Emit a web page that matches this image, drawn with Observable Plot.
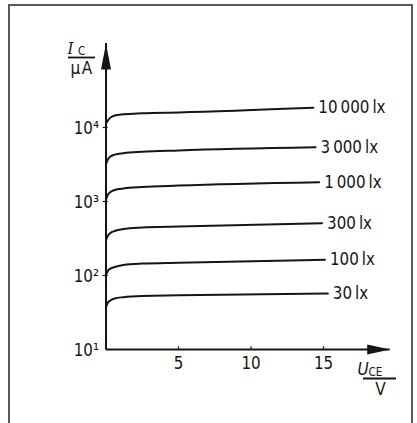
<!DOCTYPE html>
<html><head><meta charset="utf-8">
<script src="https://cdn.jsdelivr.net/npm/d3@7"></script>
<script src="https://cdn.jsdelivr.net/npm/@observablehq/plot@0.6"></script>
<style>
html,body{margin:0;padding:0;background:#fff;}
#wrap{position:relative;width:417px;height:423px;overflow:hidden;}
#frame{position:absolute;left:8px;top:4px;width:401px;height:440px;border:2px solid #5a5a5a;border-bottom:none;}
#chart{position:absolute;left:0;top:0;}
</style></head><body>
<div id="wrap"><div id="frame"></div><div id="chart"></div></div>
<script>
// Illuminance series labels
const curveLabels = ["10\u2009000\u2009lx", "3\u2009000\u2009lx", "1\u2009000\u2009lx", "300\u2009lx", "100\u2009lx", "30\u2009lx"];
// Collector-emitter voltage samples (V), shared, then the end voltage of each curve
const uceSamples = [0, 0.1, 0.3, 0.6, 1.2, 2.5, 5];
const uceEnd = [14.3, 14.45, 14.7, 14.9, 15.1, 15.3];
// Collector current (µA) at those samples, last value at uceEnd
const ic10000 = [11300, 12200, 13600, 14500, 15100, 15600, 16000, 18500];
const ic3000  = [3200, 3600, 4050, 4300, 4500, 4700, 4900, 5400];
const ic1000  = [1060, 1200, 1340, 1430, 1500, 1570, 1640, 1820];
const ic300   = [300, 335, 375, 400, 425, 445, 460, 510];
const ic100   = [100, 113, 124, 130, 139, 145, 149, 163];
const ic30    = [37, 42, 46, 49, 51, 53, 54, 57];
// Axes
const xTicks = [5, 10, 15];
const xTickLabels = ["5", "10", "15"];
const yTicks = [10, 100, 1000, 10000];
const yTickLabels = ["10\u00B9", "10\u00B2", "10\u00B3", "10\u2074"];
const xAxisEnd = 19.6;     // V, arrow tip
const yAxisEnd = 136000;   // µA, arrow tip

const series = [ic10000, ic3000, ic1000, ic300, ic100, ic30];
const rows = [];
series.forEach((vals, i) => {
  vals.forEach((v, j) => {
    rows.push({curve: curveLabels[i], U: j < uceSamples.length ? uceSamples[j] : uceEnd[i], I: v});
  });
});
const labelRows = series.map((vals, i) => ({U: uceEnd[i], I: vals[vals.length - 1], text: curveLabels[i]}));

const upArrow = {draw(ctx) { ctx.moveTo(0, 0); ctx.lineTo(5, 26); ctx.lineTo(-5, 26); ctx.closePath(); }};
const rightArrow = {draw(ctx) { ctx.moveTo(0, 0); ctx.lineTo(-23, -5); ctx.lineTo(-23, 5); ctx.closePath(); }};

const ink = "#151515";
const font = '"DejaVu Sans Condensed", "DejaVu Sans", sans-serif';

const plot = Plot.plot({
  width: 417,
  height: 423,
  marginLeft: 105.5,
  marginRight: 21.5,
  marginTop: 53,
  marginBottom: 74,
  style: {fontFamily: font, fontSize: "16.8px", color: ink, background: "transparent", fontStretch: "condensed"},
  x: {domain: [0, 20], axis: null},
  y: {type: "log", domain: [10, 100000], axis: null},
  marks: [
    Plot.ruleX([0], {y1: 10, y2: yAxisEnd, stroke: ink, strokeWidth: 2}),
    Plot.ruleY([10], {x1: 0, x2: xAxisEnd, stroke: ink, strokeWidth: 2}),
    Plot.dot([{x: 0, y: yAxisEnd}], {x: "x", y: "y", symbol: upArrow, fill: ink, stroke: "none"}),
    Plot.dot([{x: xAxisEnd, y: 10}], {x: "x", y: "y", symbol: rightArrow, fill: ink, stroke: "none"}),
    Plot.ruleY(yTicks.slice(1), {y: d => d, x1: -0.2, x2: 0.15, stroke: ink, strokeWidth: 1.2}),
    Plot.ruleX(xTicks, {x: d => d, y1: 10, y2: 10.9, stroke: ink, strokeWidth: 1.2}),
    Plot.text(yTicks, {x: 0, y: d => d, text: yTickLabels, dx: -7, dy: 1, textAnchor: "end", fill: ink}),
    Plot.text(xTicks, {x: d => d, y: 10, text: xTickLabels, dy: 14, fill: ink}),
    Plot.line(rows, {x: "U", y: "I", z: "curve", curve: "monotone-x", stroke: ink, strokeWidth: 2}),
    Plot.text(labelRows, {x: "U", y: "I", text: "text", dx: 5, textAnchor: "start", fill: ink})
  ]
});

// Axis titles (quantity / unit fractions)
const svg = d3.select(plot);
const g = svg.append("g").attr("fill", ink).attr("font-family", font).style("font-stretch", "condensed");
g.append("text").attr("x", 70.5).attr("y", 53.5).attr("font-family", '"DejaVu Serif", serif').attr("font-style", "italic").attr("font-size", 16.5).text("I");
g.append("text").attr("x", 81.5).attr("y", 54.5).attr("font-size", 11.5).text("C");
g.append("line").attr("x1", 68).attr("x2", 95).attr("y1", 57.5).attr("y2", 57.5).attr("stroke", ink).attr("stroke-width", 1.8);
g.append("text").attr("x", 82).attr("y", 74).attr("text-anchor", "middle").attr("font-size", 17).attr("letter-spacing", 1.5).text("\u03BCA");

g.append("text").attr("x", 363).attr("y", 374.5).attr("font-style", "italic").attr("font-size", 17).text("U");
g.append("text").attr("x", 375.5).attr("y", 376).attr("font-size", 11.5).text("CE");
g.append("line").attr("x1", 363).attr("x2", 396).attr("y1", 378.5).attr("y2", 378.5).attr("stroke", ink).attr("stroke-width", 1.8);
g.append("text").attr("x", 380.5).attr("y", 395).attr("text-anchor", "middle").attr("font-size", 17).text("V");

document.getElementById("chart").appendChild(plot);
</script>
</body></html>
